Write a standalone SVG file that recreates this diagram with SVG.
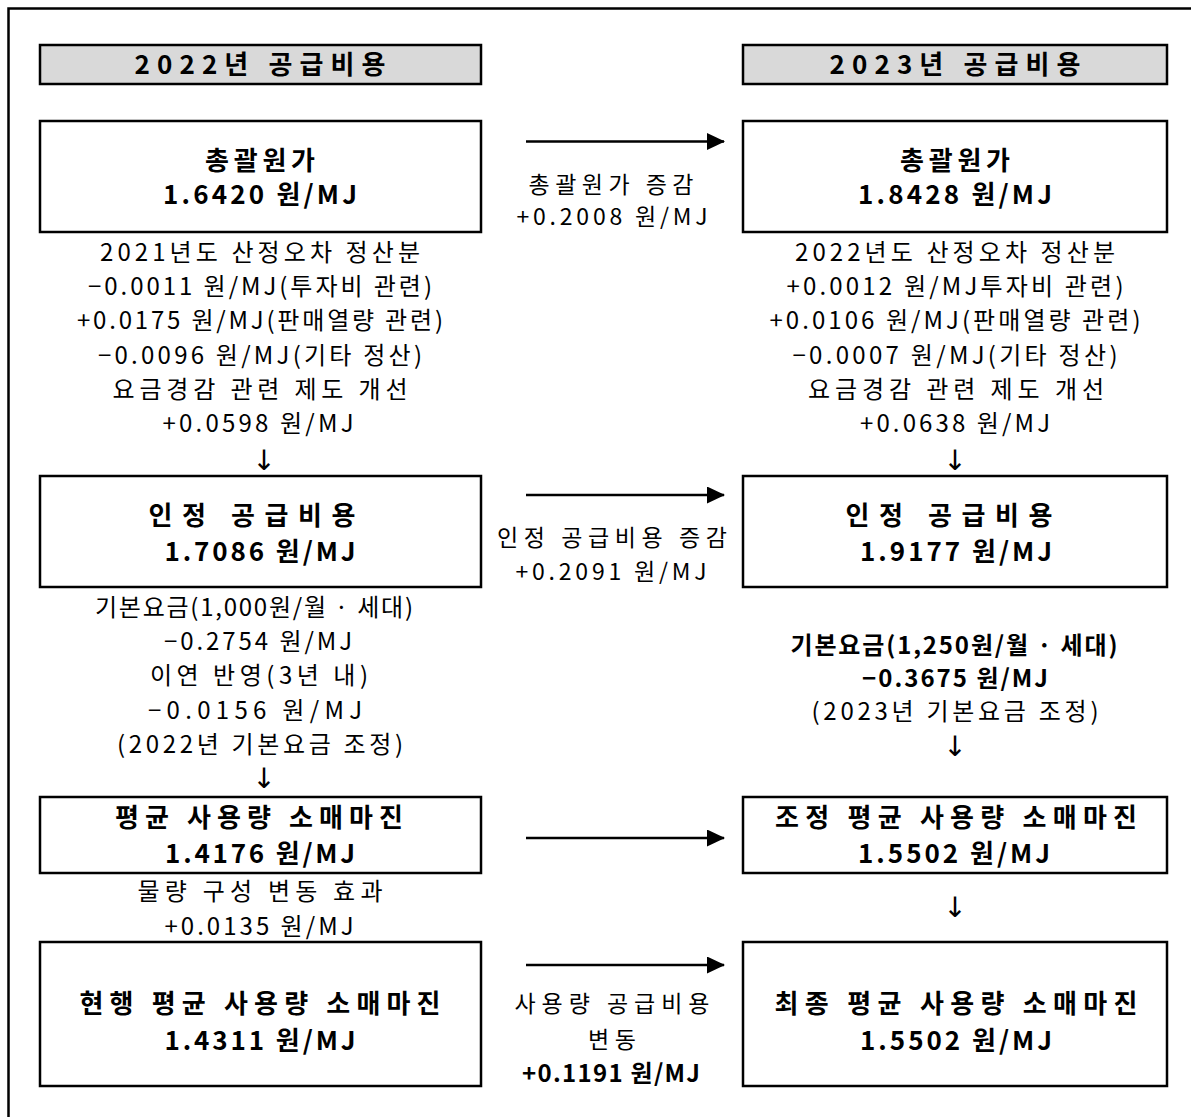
<svg xmlns="http://www.w3.org/2000/svg" width="1191" height="1117" viewBox="0 0 1191 1117">
<defs>
<marker id="ah" markerWidth="18" markerHeight="18" refX="17" refY="8.5" orient="auto" markerUnits="userSpaceOnUse">
<path d="M0,0 L18,8.5 L0,17 Z" fill="#000"/>
</marker>
<style>
.box{fill:#fff;stroke:#000;stroke-width:2.5}
.hdr{fill:#d9d9d9;stroke:#000;stroke-width:2.5}
.t{font-family:"Noto Sans CJK KR","Liberation Sans",sans-serif;font-size:24px;text-anchor:middle;fill:#000}
.m{font-family:"Noto Sans CJK KR","Liberation Sans",sans-serif;font-size:23px;text-anchor:middle;fill:#000}
.b{font-family:"Noto Sans CJK KR","Liberation Sans",sans-serif;font-size:26px;font-weight:bold;text-anchor:middle;fill:#000}
.bs{font-family:"Noto Sans CJK KR","Liberation Sans",sans-serif;font-size:24px;font-weight:bold;text-anchor:middle;fill:#000}
.ar{font-family:"DejaVu Sans",sans-serif;font-size:28px;text-anchor:middle;fill:#000}
.c{stroke:#000;stroke-width:2.5;fill:none}
</style>
</defs>
<rect x="0" y="0" width="1191" height="1117" fill="#fff"/>
<rect x="8.5" y="8.5" width="1200" height="1200" fill="none" stroke="#000" stroke-width="2.5"/>

<g id="hdr2022"><rect class="hdr" x="40" y="45" width="441" height="39"/><text class="b" x="260" y="73.5" textLength="251" lengthAdjust="spacing">2022년 공급비용</text></g>
<g id="hdr2023"><rect class="hdr" x="743" y="45" width="424" height="39"/><text class="b" x="955" y="73.5" textLength="251" lengthAdjust="spacing">2023년 공급비용</text></g>

<g id="n1"><rect class="box" x="40" y="121" width="441" height="111"/><text class="b" x="260" y="169.5" textLength="110" lengthAdjust="spacing">총괄원가</text><text class="b" x="260" y="203.5" textLength="194" lengthAdjust="spacing">1.6420 원/MJ</text></g>
<g id="n2"><rect class="box" x="743" y="121" width="424" height="111"/><text class="b" x="955" y="169.5" textLength="110" lengthAdjust="spacing">총괄원가</text><text class="b" x="955" y="203.5" textLength="194" lengthAdjust="spacing">1.8428 원/MJ</text></g>
<g id="n3"><rect class="box" x="40" y="476" width="441" height="111"/><text class="b" x="252" y="524.5" textLength="207" lengthAdjust="spacing">인정 공급비용</text><text class="b" x="260" y="560.5" textLength="191" lengthAdjust="spacing">1.7086 원/MJ</text></g>
<g id="n4"><rect class="box" x="743" y="476" width="424" height="111"/><text class="b" x="949" y="524.5" textLength="207" lengthAdjust="spacing">인정 공급비용</text><text class="b" x="956" y="560.5" textLength="192" lengthAdjust="spacing">1.9177 원/MJ</text></g>
<g id="n5"><rect class="box" x="40" y="797" width="441" height="76"/><text class="b" x="259" y="826.5" textLength="288" lengthAdjust="spacing">평균 사용량 소매마진</text><text class="b" x="260" y="862.5" textLength="190" lengthAdjust="spacing">1.4176 원/MJ</text></g>
<g id="n6"><rect class="box" x="743" y="797" width="424" height="76"/><text class="b" x="956" y="826.5" textLength="362" lengthAdjust="spacing">조정 평균 사용량 소매마진</text><text class="b" x="954" y="862.5" textLength="192" lengthAdjust="spacing">1.5502 원/MJ</text></g>
<g id="n7"><rect class="box" x="40" y="942" width="441" height="144"/><text class="b" x="260" y="1012.5" textLength="361" lengthAdjust="spacing">현행 평균 사용량 소매마진</text><text class="b" x="260" y="1049.5" textLength="191" lengthAdjust="spacing">1.4311 원/MJ</text></g>
<g id="n8"><rect class="box" x="743" y="942" width="424" height="144"/><text class="b" x="956" y="1012.5" textLength="363" lengthAdjust="spacing">최종 평균 사용량 소매마진</text><text class="b" x="956" y="1049.5" textLength="192" lengthAdjust="spacing">1.5502 원/MJ</text></g>

<g id="connectors">
<line class="c" x1="526" y1="141.5" x2="724" y2="141.5" marker-end="url(#ah)"/>
<line class="c" x1="526" y1="495" x2="724" y2="495" marker-end="url(#ah)"/>
<line class="c" x1="526" y1="838" x2="724" y2="838" marker-end="url(#ah)"/>
<line class="c" x1="526" y1="965" x2="724" y2="965" marker-end="url(#ah)"/>
</g>

<g id="labels">
<text class="m" x="611" y="192.5" textLength="165" lengthAdjust="spacing">총괄원가 증감</text>
<text class="m" x="612" y="224.5" textLength="191" lengthAdjust="spacing">+0.2008 원/MJ</text>
<text class="m" x="612" y="545.5" textLength="230" lengthAdjust="spacing">인정 공급비용 증감</text>
<text class="m" x="611" y="579.5" textLength="191" lengthAdjust="spacing">+0.2091 원/MJ</text>
<text class="m" x="612" y="1011.5" textLength="195" lengthAdjust="spacing">사용량 공급비용</text>
<text class="m" x="612" y="1047.5" textLength="48" lengthAdjust="spacing">변동</text>
<text class="bs" x="611" y="1081.5" textLength="178" lengthAdjust="spacing">+0.1191 원/MJ</text>

<text class="t" x="260" y="260.5" textLength="320" lengthAdjust="spacing">2021년도 산정오차 정산분</text>
<text class="t" x="260" y="294.5" textLength="344" lengthAdjust="spacing">−0.0011 원/MJ(투자비 관련)</text>
<text class="t" x="260" y="328.5" textLength="366" lengthAdjust="spacing">+0.0175 원/MJ(판매열량 관련)</text>
<text class="t" x="260" y="363.5" textLength="324" lengthAdjust="spacing">−0.0096 원/MJ(기타 정산)</text>
<text class="t" x="260" y="397.5" textLength="295" lengthAdjust="spacing">요금경감 관련 제도 개선</text>
<text class="t" x="258" y="431.5" textLength="191" lengthAdjust="spacing">+0.0598 원/MJ</text>
<text class="ar" x="264" y="470">↓</text>

<text class="t" x="955" y="260.5" textLength="320" lengthAdjust="spacing">2022년도 산정오차 정산분</text>
<text class="t" x="955" y="294.5" textLength="337" lengthAdjust="spacing">+0.0012 원/MJ투자비 관련)</text>
<text class="t" x="955" y="328.5" textLength="371" lengthAdjust="spacing">+0.0106 원/MJ(판매열량 관련)</text>
<text class="t" x="955" y="363.5" textLength="325" lengthAdjust="spacing">−0.0007 원/MJ(기타 정산)</text>
<text class="t" x="956" y="397.5" textLength="296" lengthAdjust="spacing">요금경감 관련 제도 개선</text>
<text class="t" x="955" y="431.5" textLength="190" lengthAdjust="spacing">+0.0638 원/MJ</text>
<text class="ar" x="955" y="470">↓</text>

<text class="t" x="254" y="615.5" textLength="318" lengthAdjust="spacing">기본요금(1,000원/월 · 세대)</text>
<text class="t" x="258" y="649.5" textLength="188" lengthAdjust="spacing">−0.2754 원/MJ</text>
<text class="t" x="259" y="683.5" textLength="218" lengthAdjust="spacing">이연 반영(3년 내)</text>
<text class="t" x="255" y="718.5" textLength="214" lengthAdjust="spacing">−0.0156  원/MJ</text>
<text class="t" x="260" y="752.5" textLength="286" lengthAdjust="spacing">(2022년 기본요금 조정)</text>
<text class="ar" x="264" y="788">↓</text>

<text class="bs" x="954" y="653.5" textLength="327" lengthAdjust="spacing">기본요금(1,250원/월 · 세대)</text>
<text class="bs" x="955" y="686.5" textLength="186" lengthAdjust="spacing">−0.3675 원/MJ</text>
<text class="t" x="955" y="719.5" textLength="287" lengthAdjust="spacing">(2023년 기본요금 조정)</text>
<text class="ar" x="955" y="756">↓</text>

<text class="t" x="260" y="899.5" textLength="245" lengthAdjust="spacing">물량 구성 변동 효과</text>
<text class="t" x="259" y="934.5" textLength="189" lengthAdjust="spacing">+0.0135 원/MJ</text>
<text class="ar" x="955" y="917">↓</text>
</g>
</svg>
